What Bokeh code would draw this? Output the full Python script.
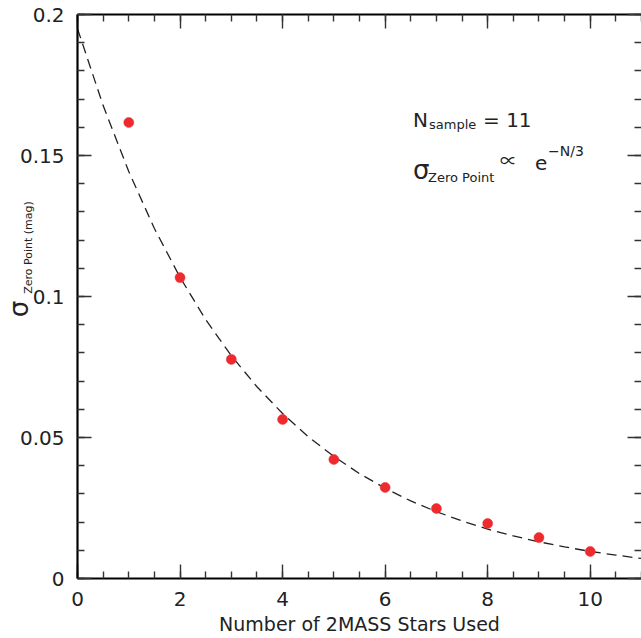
from bokeh.plotting import figure
from bokeh.models import (Range1d, LinearAxis, SingleIntervalTicker, FixedTicker,
                          CustomJSTickFormatter, Label, ColumnDataSource)
from bokeh.embed import file_html
from bokeh.resources import INLINE

# ---- data ----
n_stars = [1, 2, 3, 4, 5, 6, 7, 8, 9, 10]
sigma_zp = [0.1617, 0.1067, 0.0777, 0.0564, 0.0422,
            0.0323, 0.0248, 0.0195, 0.0145, 0.0096]

# dashed model curve (sigma ∝ e^-N/3)
fit_n = [0, 0.5, 1, 1.5, 2, 2.5, 3, 3.5, 4, 4.5, 5, 5.5,
         6, 6.5, 7, 7.5, 8, 8.5, 9, 9.5, 10, 10.5, 11]
fit_sigma = [0.1950, 0.1677, 0.1443, 0.1241, 0.1068, 0.0918, 0.0790, 0.0680,
             0.0585, 0.0503, 0.0433, 0.0372, 0.0320, 0.0275, 0.0237, 0.0204,
             0.0175, 0.0151, 0.0130, 0.0112, 0.0096, 0.0083, 0.0071]

x_label = "Number of 2MASS Stars Used"
y_label_main = "σ"
y_label_sub = "Zero Point (mag)"
FONT = "DejaVu Sans"
TXT = "#222222"
NB = "\u00a0"

p = figure(width=641, height=638, output_backend="svg", toolbar_location=None,
           x_range=Range1d(0, 11), y_range=Range1d(0, 0.2),
           x_axis_type=None, y_axis_type=None,
           min_border_left=77, min_border_right=0,
           min_border_top=14, min_border_bottom=60)
p.outline_line_color = None
p.grid.visible = False

yfmt = CustomJSTickFormatter(code="return parseFloat(tick.toFixed(3)).toString();")
blank = CustomJSTickFormatter(code="return '';")


def style(ax, show_labels, line=True):
    ax.major_tick_in = 14
    ax.major_tick_out = 0
    ax.minor_tick_in = 7
    ax.minor_tick_out = 0
    ax.major_tick_line_color = "#333333"
    ax.minor_tick_line_color = "#333333"
    ax.major_tick_line_width = 1.4
    ax.minor_tick_line_width = 1.4
    ax.axis_line_color = "black" if line else None
    ax.axis_line_width = 2.2
    if show_labels:
        ax.major_label_text_font = FONT
        ax.major_label_text_font_size = "20px"
        ax.major_label_text_color = TXT
        ax.major_label_standoff = 13
    else:
        ax.formatter = blank
        ax.major_label_text_font_size = "1px"
        ax.major_label_standoff = 0


xb = LinearAxis(ticker=SingleIntervalTicker(interval=2, num_minor_ticks=4))
style(xb, True)
xb.axis_label = x_label
xb.axis_label_text_font = FONT
xb.axis_label_text_font_size = "19px"
xb.axis_label_text_font_style = "normal"
xb.axis_label_text_color = TXT
xb.axis_label_standoff = 4
p.add_layout(xb, "below")

xt = LinearAxis(ticker=SingleIntervalTicker(interval=2, num_minor_ticks=4))
style(xt, False)
p.add_layout(xt, "above")

yl = LinearAxis(ticker=SingleIntervalTicker(interval=0.05, num_minor_ticks=5),
                formatter=yfmt)
style(yl, True)
p.add_layout(yl, "left")


def label_axis(text, size, standoff):
    ax = LinearAxis(ticker=FixedTicker(ticks=[]), formatter=blank,
                    axis_line_color=None,
                    major_tick_line_color=None, minor_tick_line_color=None,
                    major_label_text_font_size="1px", major_label_standoff=0,
                    major_tick_in=0, major_tick_out=0,
                    minor_tick_in=0, minor_tick_out=0)
    ax.axis_label = text
    ax.axis_label_text_font = FONT
    ax.axis_label_text_font_size = size
    ax.axis_label_text_font_style = "normal"
    ax.axis_label_text_color = TXT
    ax.axis_label_standoff = standoff
    p.add_layout(ax, "left")


# y-axis title: sigma with a smaller subscript, each on its own label axis
label_axis(NB * 28 + y_label_sub, "11px", -18)
label_axis(y_label_main + NB * 3, "26px", -17)

yr = LinearAxis(ticker=SingleIntervalTicker(interval=0.05, num_minor_ticks=5))
style(yr, False, line=False)
p.add_layout(yr, "right")

p.line(fit_n, fit_sigma, line_color="#222222", line_width=1.3, line_dash="10 6")

src = ColumnDataSource(dict(n=n_stars, s=sigma_zp))
p.scatter("n", "s", source=src, size=10, fill_color="#ee2a2f",
          line_color="#ee2a2f", line_width=0.5)


def lab(x, y, text, size, font=FONT):
    p.add_layout(Label(x=x, y=y, text=text, text_font=font,
                       text_font_size=size, text_color=TXT,
                       text_align="left", text_baseline="alphabetic"))


dy = 0.0027
lab(6.544, 0.15993 + dy, "N", "20px")
lab(6.856, 0.15816 + dy, "sample", "13px")
lab(7.909, 0.15993 + dy, "=  11", "20px")
lab(6.544, 0.14220 + dy, "σ", "26px")
lab(6.836, 0.13936 + dy, "Zero Point", "13px")
lab(8.241, 0.14581 + dy, "∝", "17px", font="Noto Sans CJK SC")
lab(8.924, 0.14468 + dy, "e", "20px")
lab(9.177, 0.14894 + dy, "−N/3", "14px")

open("out.html", "w").write(file_html(p, INLINE))
